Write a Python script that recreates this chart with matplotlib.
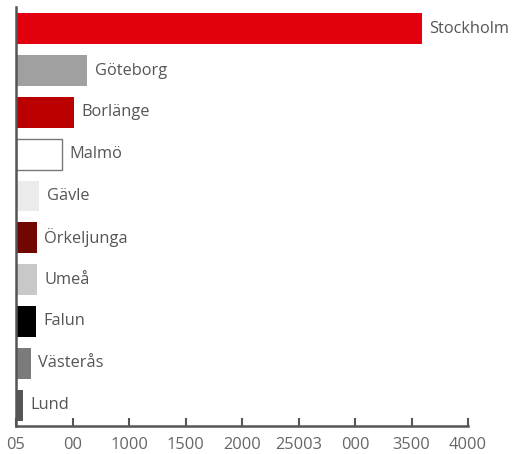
import matplotlib.pyplot as plt

cities = ['Stockholm', 'Göteborg', 'Borlänge', 'Malmö', 'Gävle',
          'Örkeljunga', 'Umeå', 'Falun', 'Västerås', 'Lund']
values = [3590, 630, 515, 410, 205, 185, 185, 177, 133, 62]
colors = ['#e2000f', '#a0a0a0', '#bb0000', '#ffffff', '#ebebeb',
          '#720600', '#c8c8c8', '#000000', '#7b7b7b', '#555555']
edges = ['none', 'none', 'none', '#777777', 'none',
         'none', 'none', 'none', 'none', 'none']
tick_pos = [0, 500, 1000, 1500, 2000, 2500, 3000, 3500, 4000]
tick_labels = ['05', '00', '1000', '1500', '2000', '25003', '000', '3500', '4000']

plt.rcParams['font.family'] = ['Open Sans', 'DejaVu Sans']

fig = plt.figure(figsize=(5.16, 4.54), dpi=100)
ax = fig.add_axes([16 / 516, 28 / 454, 452 / 516, 419 / 454])

ypos = list(range(len(cities)))
ax.barh(ypos, values, height=0.74, color=colors, edgecolor=edges, linewidth=1)

for y, v, name in zip(ypos, values, cities):
    ax.text(v + 65, y, name, va='center', ha='left', fontsize=11.8, color='#555555')

ax.set_xlim(0, 4000)
ax.set_ylim(9.5, -0.52)
ax.set_yticks([])
ax.set_xticks(tick_pos)
ax.set_xticklabels(tick_labels)
ax.tick_params(axis='x', direction='in', length=6, width=1.5, color='#555555',
               labelsize=11.8, labelcolor='#666666', pad=8)

for s in ['top', 'right']:
    ax.spines[s].set_visible(False)
for s in ['left', 'bottom']:
    ax.spines[s].set_color('#555555')
    ax.spines[s].set_linewidth(1.8)

fig.savefig('out.png', dpi=100)
